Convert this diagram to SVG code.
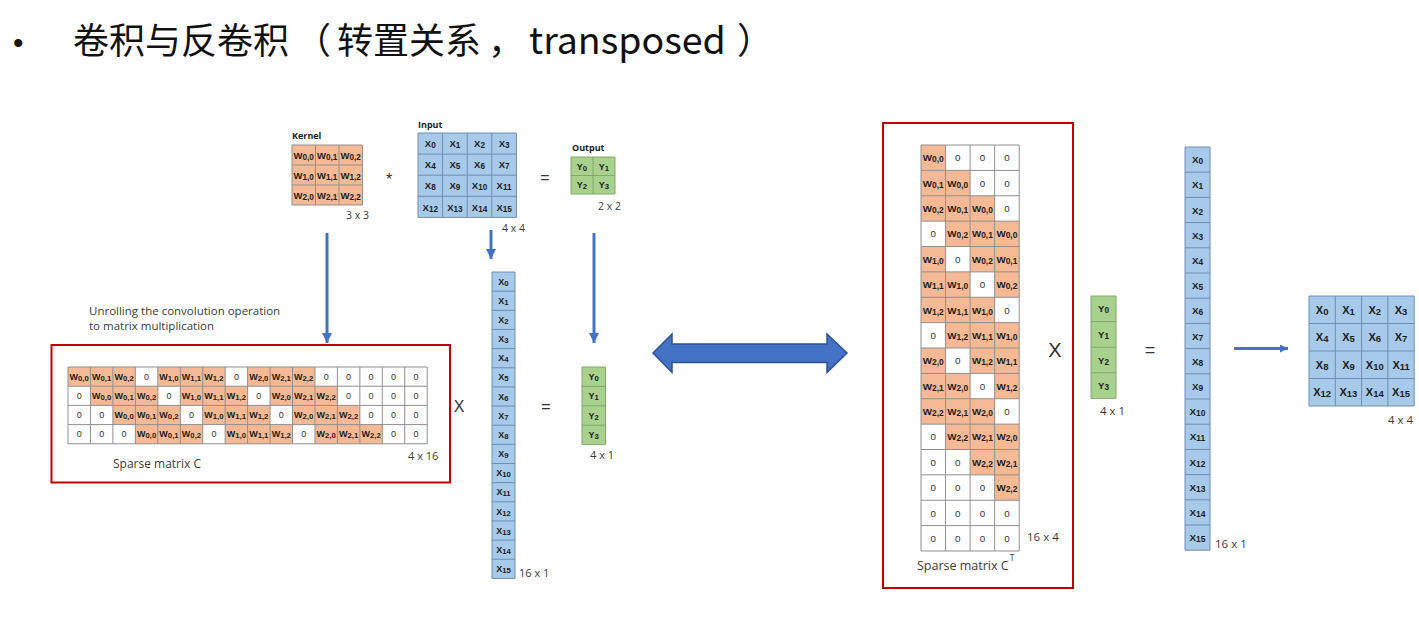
<svg xmlns="http://www.w3.org/2000/svg" width="1419" height="622" viewBox="0 0 1419 622">
<style>
.o{fill:#F5BA95}
.b{fill:#A7C9EA}
.g{fill:#A9D18E}
.gl{fill:none;stroke:#8f8f8f;stroke-width:1}
.gb{fill:none;stroke:#6f8db0;stroke-width:1}
.gg{fill:none;stroke:#84a768;stroke-width:1}
.c text{font-family:"Liberation Sans",Arial,sans-serif;font-weight:bold;text-anchor:middle;fill:#1c1c1c}
.c text.z{font-weight:normal;fill:#333}
.s{font-size:86%}
.lab{font-family:"Open Sans","Liberation Sans",sans-serif;fill:#3a3a3a;text-anchor:start}
.c text.lab{font-family:"Open Sans","Liberation Sans",sans-serif;font-weight:normal;fill:#3a3a3a;text-anchor:start}
.c text.hd{font-family:"Open Sans","Liberation Sans",sans-serif;font-weight:bold;font-size:9px;fill:#222;text-anchor:start}
.op{font-family:"Liberation Sans",Arial,sans-serif;fill:#333;text-anchor:middle}
.arr{stroke:#4472C4;stroke-width:3;fill:none}
</style>
<defs>
<marker id="ah" viewBox="0 0 10 10" refX="10" refY="5" markerWidth="10" markerHeight="10" markerUnits="userSpaceOnUse" orient="auto"><path d="M0,0L10,5L0,10z" fill="#4472C4"/></marker>
<marker id="ah2" viewBox="0 0 10 10" refX="10" refY="5" markerWidth="8" markerHeight="8" markerUnits="userSpaceOnUse" orient="auto"><path d="M0,0L10,5L0,10z" fill="#4472C4"/></marker>
</defs>
<rect width="1419" height="622" fill="#ffffff"/>

<g id="title">
<text x="13" y="53" font-family="Liberation Sans,Arial,sans-serif" font-size="30" fill="#111">•</text>
<text y="54" font-family="'Noto Sans CJK SC','Noto Sans',sans-serif" font-size="36" fill="#111"><tspan x="73">卷积与反卷积</tspan><tspan x="295">（</tspan><tspan x="337">转置关系</tspan><tspan x="488">，</tspan><tspan x="529" font-size="37.5">transposed</tspan><tspan x="737">）</tspan></text>
</g>

<g id="kernel" class="c" transform="translate(292,145)" font-size="9.5">
<rect class="o" width="70.5" height="60"/>
<path class="gl" d="M0,0H70.5V60H0Z M23.5,0V60 M47,0V60 M0,20H70.5 M0,40H70.5"/>
<text x="11.75" y="13.5">W<tspan class="s" dy="1">0,0</tspan></text>
<text x="35.25" y="13.5">W<tspan class="s" dy="1">0,1</tspan></text>
<text x="58.75" y="13.5">W<tspan class="s" dy="1">0,2</tspan></text>
<text x="11.75" y="33.5">W<tspan class="s" dy="1">1,0</tspan></text>
<text x="35.25" y="33.5">W<tspan class="s" dy="1">1,1</tspan></text>
<text x="58.75" y="33.5">W<tspan class="s" dy="1">1,2</tspan></text>
<text x="11.75" y="53.5">W<tspan class="s" dy="1">2,0</tspan></text>
<text x="35.25" y="53.5">W<tspan class="s" dy="1">2,1</tspan></text>
<text x="58.75" y="53.5">W<tspan class="s" dy="1">2,2</tspan></text>
<text class="hd" x="0" y="-6">Kernel</text>
<text class="lab" x="54" y="74" font-size="10.5">3 x 3</text>
</g>

<g id="input" class="c" transform="translate(418,133)" font-size="9.5">
<rect class="b" width="98.4" height="84.4"/>
<path class="gb" d="M0,0H98.4V84.4H0Z M24.6,0V84.4 M49.2,0V84.4 M73.8,0V84.4 M0,21.1H98.4 M0,42.2H98.4 M0,63.3H98.4"/>
<text x="12.3" y="14.2">X<tspan class="s" dy="1">0</tspan></text>
<text x="36.9" y="14.2">X<tspan class="s" dy="1">1</tspan></text>
<text x="61.5" y="14.2">X<tspan class="s" dy="1">2</tspan></text>
<text x="86.1" y="14.2">X<tspan class="s" dy="1">3</tspan></text>
<text x="12.3" y="35.3">X<tspan class="s" dy="1">4</tspan></text>
<text x="36.9" y="35.3">X<tspan class="s" dy="1">5</tspan></text>
<text x="61.5" y="35.3">X<tspan class="s" dy="1">6</tspan></text>
<text x="86.1" y="35.3">X<tspan class="s" dy="1">7</tspan></text>
<text x="12.3" y="56.4">X<tspan class="s" dy="1">8</tspan></text>
<text x="36.9" y="56.4">X<tspan class="s" dy="1">9</tspan></text>
<text x="61.5" y="56.4">X<tspan class="s" dy="1">10</tspan></text>
<text x="86.1" y="56.4">X<tspan class="s" dy="1">11</tspan></text>
<text x="12.3" y="77.5">X<tspan class="s" dy="1">12</tspan></text>
<text x="36.9" y="77.5">X<tspan class="s" dy="1">13</tspan></text>
<text x="61.5" y="77.5">X<tspan class="s" dy="1">14</tspan></text>
<text x="86.1" y="77.5">X<tspan class="s" dy="1">15</tspan></text>
<text class="hd" x="0" y="-5">Input</text>
<text class="lab" x="84" y="99" font-size="10.5">4 x 4</text>
</g>

<g id="output" class="c" transform="translate(571,157)" font-size="9">
<rect class="g" width="44" height="37"/>
<path class="gg" d="M0,0H44V37H0Z M22,0V37 M0,18.5H44"/>
<text x="11" y="12.5">Y<tspan class="s" dy="1">0</tspan></text>
<text x="33" y="12.5">Y<tspan class="s" dy="1">1</tspan></text>
<text x="11" y="31">Y<tspan class="s" dy="1">2</tspan></text>
<text x="33" y="31">Y<tspan class="s" dy="1">3</tspan></text>
<text class="hd" x="1" y="-6">Output</text>
<text class="lab" x="27" y="53" font-size="10.5">2 x 2</text>
</g>

<g id="ops" class="op">
<text x="389" y="185" font-size="16">*</text>
<text x="545" y="183" font-size="16">=</text>
<text x="459" y="412" font-size="16">X</text>
<text x="546" y="412" font-size="16">=</text>
<text x="1055" y="357" font-size="20">X</text>
<text x="1150" y="356" font-size="18">=</text>
</g>

<g id="unroll-label">
<text class="lab" x="89" y="315" font-size="11.5">Unrolling the convolution operation</text>
<text class="lab" x="89" y="329.5" font-size="11.5">to matrix multiplication</text>
</g>

<g id="sparse-C" class="c">
<rect x="51.5" y="345" width="398.5" height="137.5" fill="none" stroke="#C00000" stroke-width="2"/>
<g transform="translate(68,367)" font-size="9">
<rect class="o" x="0" y="0" width="67.35" height="19.2"/><rect class="o" x="89.8" y="0" width="67.35" height="19.2"/><rect class="o" x="179.6" y="0" width="67.35" height="19.2"/>
<rect class="o" x="22.45" y="19.2" width="67.35" height="19.2"/><rect class="o" x="112.25" y="19.2" width="67.35" height="19.2"/><rect class="o" x="202.05" y="19.2" width="67.35" height="19.2"/>
<rect class="o" x="44.9" y="38.4" width="67.35" height="19.2"/><rect class="o" x="134.7" y="38.4" width="67.35" height="19.2"/><rect class="o" x="224.5" y="38.4" width="67.35" height="19.2"/>
<rect class="o" x="67.35" y="57.6" width="67.35" height="19.2"/><rect class="o" x="157.15" y="57.6" width="67.35" height="19.2"/><rect class="o" x="246.95" y="57.6" width="67.35" height="19.2"/>
<path class="gl" d="M0,0H359.2V76.8H0Z M22.45,0V76.8 M44.9,0V76.8 M67.35,0V76.8 M89.8,0V76.8 M112.25,0V76.8 M134.7,0V76.8 M157.15,0V76.8 M179.6,0V76.8 M202.05,0V76.8 M224.5,0V76.8 M246.95,0V76.8 M269.4,0V76.8 M291.85,0V76.8 M314.3,0V76.8 M336.75,0V76.8 M0,19.2H359.2 M0,38.4H359.2 M0,57.6H359.2"/>
<text x="11.2" y="12.8">W<tspan class="s" dy="1">0,0</tspan></text>
<text x="33.7" y="12.8">W<tspan class="s" dy="1">0,1</tspan></text>
<text x="56.1" y="12.8">W<tspan class="s" dy="1">0,2</tspan></text>
<text class="z" x="78.6" y="12.8">0</text>
<text x="101" y="12.8">W<tspan class="s" dy="1">1,0</tspan></text>
<text x="123.5" y="12.8">W<tspan class="s" dy="1">1,1</tspan></text>
<text x="145.9" y="12.8">W<tspan class="s" dy="1">1,2</tspan></text>
<text class="z" x="168.4" y="12.8">0</text>
<text x="190.8" y="12.8">W<tspan class="s" dy="1">2,0</tspan></text>
<text x="213.3" y="12.8">W<tspan class="s" dy="1">2,1</tspan></text>
<text x="235.7" y="12.8">W<tspan class="s" dy="1">2,2</tspan></text>
<text class="z" x="258.2" y="12.8">0</text>
<text class="z" x="280.6" y="12.8">0</text>
<text class="z" x="303.1" y="12.8">0</text>
<text class="z" x="325.5" y="12.8">0</text>
<text class="z" x="348" y="12.8">0</text>

<text class="z" x="11.2" y="32">0</text>
<text x="33.7" y="32">W<tspan class="s" dy="1">0,0</tspan></text>
<text x="56.1" y="32">W<tspan class="s" dy="1">0,1</tspan></text>
<text x="78.6" y="32">W<tspan class="s" dy="1">0,2</tspan></text>
<text class="z" x="101" y="32">0</text>
<text x="123.5" y="32">W<tspan class="s" dy="1">1,0</tspan></text>
<text x="145.9" y="32">W<tspan class="s" dy="1">1,1</tspan></text>
<text x="168.4" y="32">W<tspan class="s" dy="1">1,2</tspan></text>
<text class="z" x="190.8" y="32">0</text>
<text x="213.3" y="32">W<tspan class="s" dy="1">2,0</tspan></text>
<text x="235.7" y="32">W<tspan class="s" dy="1">2,1</tspan></text>
<text x="258.2" y="32">W<tspan class="s" dy="1">2,2</tspan></text>
<text class="z" x="280.6" y="32">0</text>
<text class="z" x="303.1" y="32">0</text>
<text class="z" x="325.5" y="32">0</text>
<text class="z" x="348" y="32">0</text>

<text class="z" x="11.2" y="51.2">0</text>
<text class="z" x="33.7" y="51.2">0</text>
<text x="56.1" y="51.2">W<tspan class="s" dy="1">0,0</tspan></text>
<text x="78.6" y="51.2">W<tspan class="s" dy="1">0,1</tspan></text>
<text x="101" y="51.2">W<tspan class="s" dy="1">0,2</tspan></text>
<text class="z" x="123.5" y="51.2">0</text>
<text x="145.9" y="51.2">W<tspan class="s" dy="1">1,0</tspan></text>
<text x="168.4" y="51.2">W<tspan class="s" dy="1">1,1</tspan></text>
<text x="190.8" y="51.2">W<tspan class="s" dy="1">1,2</tspan></text>
<text class="z" x="213.3" y="51.2">0</text>
<text x="235.7" y="51.2">W<tspan class="s" dy="1">2,0</tspan></text>
<text x="258.2" y="51.2">W<tspan class="s" dy="1">2,1</tspan></text>
<text x="280.6" y="51.2">W<tspan class="s" dy="1">2,2</tspan></text>
<text class="z" x="303.1" y="51.2">0</text>
<text class="z" x="325.5" y="51.2">0</text>
<text class="z" x="348" y="51.2">0</text>

<text class="z" x="11.2" y="70.4">0</text>
<text class="z" x="33.7" y="70.4">0</text>
<text class="z" x="56.1" y="70.4">0</text>
<text x="78.6" y="70.4">W<tspan class="s" dy="1">0,0</tspan></text>
<text x="101" y="70.4">W<tspan class="s" dy="1">0,1</tspan></text>
<text x="123.5" y="70.4">W<tspan class="s" dy="1">0,2</tspan></text>
<text class="z" x="145.9" y="70.4">0</text>
<text x="168.4" y="70.4">W<tspan class="s" dy="1">1,0</tspan></text>
<text x="190.8" y="70.4">W<tspan class="s" dy="1">1,1</tspan></text>
<text x="213.3" y="70.4">W<tspan class="s" dy="1">1,2</tspan></text>
<text class="z" x="235.7" y="70.4">0</text>
<text x="258.2" y="70.4">W<tspan class="s" dy="1">2,0</tspan></text>
<text x="280.6" y="70.4">W<tspan class="s" dy="1">2,1</tspan></text>
<text x="303.1" y="70.4">W<tspan class="s" dy="1">2,2</tspan></text>
<text class="z" x="325.5" y="70.4">0</text>
<text class="z" x="348" y="70.4">0</text>
</g>
<text class="lab" x="113" y="468" font-size="12">Sparse matrix C</text>
<text class="lab" x="408" y="460" font-size="11">4 x 16</text>
</g>

<g id="x-col-mid" class="c" transform="translate(492,272)" font-size="9">
<rect class="b" width="23" height="306.4"/>
<path class="gb" d="M0,0H23V306.4H0Z M0,19.15H23 M0,38.3H23 M0,57.45H23 M0,76.6H23 M0,95.75H23 M0,114.9H23 M0,134.05H23 M0,153.2H23 M0,172.35H23 M0,191.5H23 M0,210.65H23 M0,229.8H23 M0,248.95H23 M0,268.1H23 M0,287.25H23"/>
<text x="11.5" y="12.7">X<tspan class="s" dy="1">0</tspan></text>
<text x="11.5" y="31.85">X<tspan class="s" dy="1">1</tspan></text>
<text x="11.5" y="51">X<tspan class="s" dy="1">2</tspan></text>
<text x="11.5" y="70.15">X<tspan class="s" dy="1">3</tspan></text>
<text x="11.5" y="89.3">X<tspan class="s" dy="1">4</tspan></text>
<text x="11.5" y="108.45">X<tspan class="s" dy="1">5</tspan></text>
<text x="11.5" y="127.6">X<tspan class="s" dy="1">6</tspan></text>
<text x="11.5" y="146.75">X<tspan class="s" dy="1">7</tspan></text>
<text x="11.5" y="165.9">X<tspan class="s" dy="1">8</tspan></text>
<text x="11.5" y="185.05">X<tspan class="s" dy="1">9</tspan></text>
<text x="11.5" y="204.2">X<tspan class="s" dy="1">10</tspan></text>
<text x="11.5" y="223.35">X<tspan class="s" dy="1">11</tspan></text>
<text x="11.5" y="242.5">X<tspan class="s" dy="1">12</tspan></text>
<text x="11.5" y="261.65">X<tspan class="s" dy="1">13</tspan></text>
<text x="11.5" y="280.8">X<tspan class="s" dy="1">14</tspan></text>
<text x="11.5" y="299.95">X<tspan class="s" dy="1">15</tspan></text>
<text class="lab" x="27" y="305" font-size="11">16 x 1</text>
</g>

<g id="y-col-mid" class="c" transform="translate(582,367)" font-size="9">
<rect class="g" width="23.5" height="77.6"/>
<path class="gg" d="M0,0H23.5V77.6H0Z M0,19.4H23.5 M0,38.8H23.5 M0,58.2H23.5"/>
<text x="11.75" y="12.9">Y<tspan class="s" dy="1">0</tspan></text>
<text x="11.75" y="32.3">Y<tspan class="s" dy="1">1</tspan></text>
<text x="11.75" y="51.7">Y<tspan class="s" dy="1">2</tspan></text>
<text x="11.75" y="71.1">Y<tspan class="s" dy="1">3</tspan></text>
<text class="lab" x="8" y="92" font-size="11">4 x 1</text>
</g>

<g id="sparse-CT" class="c">
<rect x="883" y="123" width="190" height="465" fill="none" stroke="#C00000" stroke-width="2"/>
<g transform="translate(921,145)" font-size="9.8">
<rect class="o" x="0" y="0" width="24.55" height="76.125"/><rect class="o" x="0" y="101.5" width="24.55" height="76.125"/><rect class="o" x="0" y="203" width="24.55" height="76.125"/>
<rect class="o" x="24.55" y="25.375" width="24.55" height="76.125"/><rect class="o" x="24.55" y="126.875" width="24.55" height="76.125"/><rect class="o" x="24.55" y="228.375" width="24.55" height="76.125"/>
<rect class="o" x="49.1" y="50.75" width="24.55" height="76.125"/><rect class="o" x="49.1" y="152.25" width="24.55" height="76.125"/><rect class="o" x="49.1" y="253.75" width="24.55" height="76.125"/>
<rect class="o" x="73.65" y="76.125" width="24.55" height="76.125"/><rect class="o" x="73.65" y="177.625" width="24.55" height="76.125"/><rect class="o" x="73.65" y="279.125" width="24.55" height="76.125"/>
<path class="gl" d="M0,0H98.2V406H0Z M24.55,0V406 M49.1,0V406 M73.65,0V406 M0,25.375H98.2 M0,50.75H98.2 M0,76.125H98.2 M0,101.5H98.2 M0,126.875H98.2 M0,152.25H98.2 M0,177.625H98.2 M0,203H98.2 M0,228.375H98.2 M0,253.75H98.2 M0,279.125H98.2 M0,304.5H98.2 M0,329.875H98.2 M0,355.25H98.2 M0,380.625H98.2"/>
<text x="12.3" y="16.2">W<tspan class="s" dy="1">0,0</tspan></text><text class="z" x="36.8" y="16.2">0</text><text class="z" x="61.4" y="16.2">0</text><text class="z" x="85.9" y="16.2">0</text>
<text x="12.3" y="41.6">W<tspan class="s" dy="1">0,1</tspan></text><text x="36.8" y="41.6">W<tspan class="s" dy="1">0,0</tspan></text><text class="z" x="61.4" y="41.6">0</text><text class="z" x="85.9" y="41.6">0</text>
<text x="12.3" y="67">W<tspan class="s" dy="1">0,2</tspan></text><text x="36.8" y="67">W<tspan class="s" dy="1">0,1</tspan></text><text x="61.4" y="67">W<tspan class="s" dy="1">0,0</tspan></text><text class="z" x="85.9" y="67">0</text>
<text class="z" x="12.3" y="92.3">0</text><text x="36.8" y="92.3">W<tspan class="s" dy="1">0,2</tspan></text><text x="61.4" y="92.3">W<tspan class="s" dy="1">0,1</tspan></text><text x="85.9" y="92.3">W<tspan class="s" dy="1">0,0</tspan></text>
<text x="12.3" y="117.7">W<tspan class="s" dy="1">1,0</tspan></text><text class="z" x="36.8" y="117.7">0</text><text x="61.4" y="117.7">W<tspan class="s" dy="1">0,2</tspan></text><text x="85.9" y="117.7">W<tspan class="s" dy="1">0,1</tspan></text>
<text x="12.3" y="143.1">W<tspan class="s" dy="1">1,1</tspan></text><text x="36.8" y="143.1">W<tspan class="s" dy="1">1,0</tspan></text><text class="z" x="61.4" y="143.1">0</text><text x="85.9" y="143.1">W<tspan class="s" dy="1">0,2</tspan></text>
<text x="12.3" y="168.5">W<tspan class="s" dy="1">1,2</tspan></text><text x="36.8" y="168.5">W<tspan class="s" dy="1">1,1</tspan></text><text x="61.4" y="168.5">W<tspan class="s" dy="1">1,0</tspan></text><text class="z" x="85.9" y="168.5">0</text>
<text class="z" x="12.3" y="193.8">0</text><text x="36.8" y="193.8">W<tspan class="s" dy="1">1,2</tspan></text><text x="61.4" y="193.8">W<tspan class="s" dy="1">1,1</tspan></text><text x="85.9" y="193.8">W<tspan class="s" dy="1">1,0</tspan></text>
<text x="12.3" y="219.2">W<tspan class="s" dy="1">2,0</tspan></text><text class="z" x="36.8" y="219.2">0</text><text x="61.4" y="219.2">W<tspan class="s" dy="1">1,2</tspan></text><text x="85.9" y="219.2">W<tspan class="s" dy="1">1,1</tspan></text>
<text x="12.3" y="244.6">W<tspan class="s" dy="1">2,1</tspan></text><text x="36.8" y="244.6">W<tspan class="s" dy="1">2,0</tspan></text><text class="z" x="61.4" y="244.6">0</text><text x="85.9" y="244.6">W<tspan class="s" dy="1">1,2</tspan></text>
<text x="12.3" y="270">W<tspan class="s" dy="1">2,2</tspan></text><text x="36.8" y="270">W<tspan class="s" dy="1">2,1</tspan></text><text x="61.4" y="270">W<tspan class="s" dy="1">2,0</tspan></text><text class="z" x="85.9" y="270">0</text>
<text class="z" x="12.3" y="295.3">0</text><text x="36.8" y="295.3">W<tspan class="s" dy="1">2,2</tspan></text><text x="61.4" y="295.3">W<tspan class="s" dy="1">2,1</tspan></text><text x="85.9" y="295.3">W<tspan class="s" dy="1">2,0</tspan></text>
<text class="z" x="12.3" y="320.7">0</text><text class="z" x="36.8" y="320.7">0</text><text x="61.4" y="320.7">W<tspan class="s" dy="1">2,2</tspan></text><text x="85.9" y="320.7">W<tspan class="s" dy="1">2,1</tspan></text>
<text class="z" x="12.3" y="346.1">0</text><text class="z" x="36.8" y="346.1">0</text><text class="z" x="61.4" y="346.1">0</text><text x="85.9" y="346.1">W<tspan class="s" dy="1">2,2</tspan></text>
<text class="z" x="12.3" y="371.5">0</text><text class="z" x="36.8" y="371.5">0</text><text class="z" x="61.4" y="371.5">0</text><text class="z" x="85.9" y="371.5">0</text>
<text class="z" x="12.3" y="396.8">0</text><text class="z" x="36.8" y="396.8">0</text><text class="z" x="61.4" y="396.8">0</text><text class="z" x="85.9" y="396.8">0</text>
</g>
<text class="lab" x="1027" y="541" font-size="11.5">16 x 4</text>
<text class="lab" x="917" y="570" font-size="12.5">Sparse matrix C<tspan font-size="8.5" dx="1" dy="-9">T</tspan></text>
</g>

<g id="y-col-right" class="c" transform="translate(1091,296)" font-size="9.5">
<rect class="g" width="25" height="102.4"/>
<path class="gg" d="M0,0H25V102.4H0Z M0,25.6H25 M0,51.2H25 M0,76.8H25"/>
<text x="12.5" y="16.3">Y<tspan class="s" dy="1">0</tspan></text>
<text x="12.5" y="41.9">Y<tspan class="s" dy="1">1</tspan></text>
<text x="12.5" y="67.5">Y<tspan class="s" dy="1">2</tspan></text>
<text x="12.5" y="93.1">Y<tspan class="s" dy="1">3</tspan></text>
<text class="lab" x="9" y="119" font-size="11.5">4 x 1</text>
</g>

<g id="x-col-right" class="c" transform="translate(1185,147)" font-size="9.8">
<rect class="b" width="25" height="403.2"/>
<path class="gb" d="M0,0H25V403.2H0Z M0,25.2H25 M0,50.4H25 M0,75.6H25 M0,100.8H25 M0,126H25 M0,151.2H25 M0,176.4H25 M0,201.6H25 M0,226.8H25 M0,252H25 M0,277.2H25 M0,302.4H25 M0,327.6H25 M0,352.8H25 M0,378H25"/>
<text x="12.5" y="16.1">X<tspan class="s" dy="1">0</tspan></text>
<text x="12.5" y="41.3">X<tspan class="s" dy="1">1</tspan></text>
<text x="12.5" y="66.5">X<tspan class="s" dy="1">2</tspan></text>
<text x="12.5" y="91.7">X<tspan class="s" dy="1">3</tspan></text>
<text x="12.5" y="116.9">X<tspan class="s" dy="1">4</tspan></text>
<text x="12.5" y="142.1">X<tspan class="s" dy="1">5</tspan></text>
<text x="12.5" y="167.3">X<tspan class="s" dy="1">6</tspan></text>
<text x="12.5" y="192.5">X<tspan class="s" dy="1">7</tspan></text>
<text x="12.5" y="217.7">X<tspan class="s" dy="1">8</tspan></text>
<text x="12.5" y="242.9">X<tspan class="s" dy="1">9</tspan></text>
<text x="12.5" y="268.1">X<tspan class="s" dy="1">10</tspan></text>
<text x="12.5" y="293.3">X<tspan class="s" dy="1">11</tspan></text>
<text x="12.5" y="318.5">X<tspan class="s" dy="1">12</tspan></text>
<text x="12.5" y="343.7">X<tspan class="s" dy="1">13</tspan></text>
<text x="12.5" y="368.9">X<tspan class="s" dy="1">14</tspan></text>
<text x="12.5" y="394.1">X<tspan class="s" dy="1">15</tspan></text>
<text class="lab" x="30" y="401" font-size="11.5">16 x 1</text>
</g>

<g id="output-right" class="c" transform="translate(1309,296)" font-size="11">
<rect class="b" width="105.2" height="110"/>
<path class="gb" d="M0,0H105.2V110H0Z M26.3,0V110 M52.6,0V110 M78.9,0V110 M0,27.5H105.2 M0,55H105.2 M0,82.5H105.2"/>
<text x="13.15" y="17.6">X<tspan class="s" dy="1">0</tspan></text>
<text x="39.45" y="17.6">X<tspan class="s" dy="1">1</tspan></text>
<text x="65.75" y="17.6">X<tspan class="s" dy="1">2</tspan></text>
<text x="92.05" y="17.6">X<tspan class="s" dy="1">3</tspan></text>
<text x="13.15" y="45.1">X<tspan class="s" dy="1">4</tspan></text>
<text x="39.45" y="45.1">X<tspan class="s" dy="1">5</tspan></text>
<text x="65.75" y="45.1">X<tspan class="s" dy="1">6</tspan></text>
<text x="92.05" y="45.1">X<tspan class="s" dy="1">7</tspan></text>
<text x="13.15" y="72.6">X<tspan class="s" dy="1">8</tspan></text>
<text x="39.45" y="72.6">X<tspan class="s" dy="1">9</tspan></text>
<text x="65.75" y="72.6">X<tspan class="s" dy="1">10</tspan></text>
<text x="92.05" y="72.6">X<tspan class="s" dy="1">11</tspan></text>
<text x="13.15" y="100.1">X<tspan class="s" dy="1">12</tspan></text>
<text x="39.45" y="100.1">X<tspan class="s" dy="1">13</tspan></text>
<text x="65.75" y="100.1">X<tspan class="s" dy="1">14</tspan></text>
<text x="92.05" y="100.1">X<tspan class="s" dy="1">15</tspan></text>
<text class="lab" x="79" y="128" font-size="11.5">4 x 4</text>
</g>

<g id="connectors">
<line class="arr" x1="327" y1="233" x2="327" y2="343" marker-end="url(#ah)"/>
<line class="arr" x1="491" y1="230" x2="491" y2="259" marker-end="url(#ah)"/>
<line class="arr" x1="594" y1="233" x2="594" y2="343" marker-end="url(#ah)"/>
<line class="arr" x1="1234" y1="348.5" x2="1288" y2="348.5" stroke-width="2" marker-end="url(#ah2)"/>
<polygon points="653,353 672,334 672,344 827,344 827,334 847,353 827,372.5 827,362.5 672,362.5 672,372.5" fill="#4472C4" stroke="#2F528F" stroke-width="1.5" stroke-linejoin="miter"/>
</g>
</svg>
